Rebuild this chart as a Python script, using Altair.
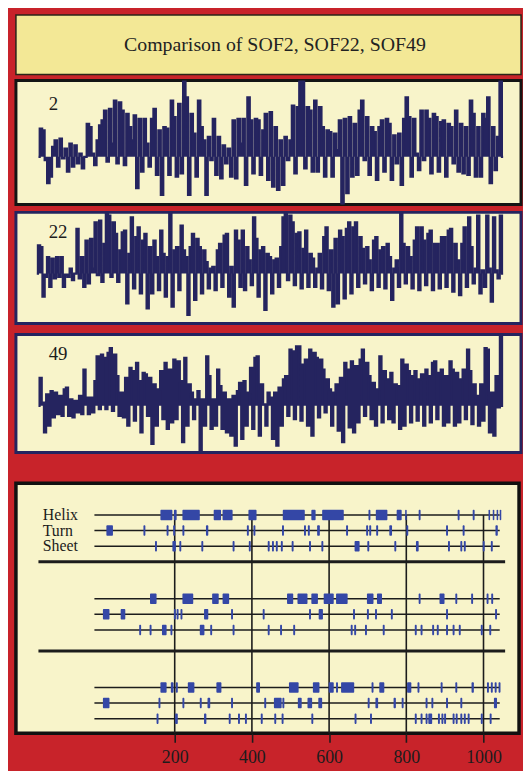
import altair as alt
import pandas as pd

# ---------------- data ----------------
TITLE = "Comparison of SOF2, SOF22, SOF49"
PANEL_LABELS = ["2", "22", "49"]

HYD_2 = [
    0, 0.85, 0.8, -0.1, -0.8, -0.6, 0.3,
    0.5, -0.3, 0.55, -0.05, 0.25, -0.45, 0.4,
    -0.3, 0.35, -0.2, 0.1, -0.35, 0,
    1.0, 0.9, 0.1, -0.25, 0.5, 0.95,
    1.1, 1.4, -0.15, 1.45, 0.4, 1.7, -0.2, 1.65,
    1.4, -0.25, 1.3, 0.9, 0.5, 1.25, -0.95,
    1.15, -0.45, 1.15, 0.4, -0.3, 1.15,
    1.45, -0.55, 0.8, -1.15, 0.9, 0.85, -0.55,
    1.7, 1.2, -0.6, 1.6, -0.5, 2.3,
    1.8, -1.15, 1.3, 0.7, -0.6, 1.7, 0.9,
    0.5, -1.15, 0.6, -0.1, 1.15, -0.55,
    0.6, -0.65, 0.35, -0.2, 0.25, -0.6,
    1.1, -0.65, 1.15, 0.4, 1.15, -0.85, 1.8,
    1.1, -0.5, 1.15, 1.1, -0.55, 0.8, 1.3, -0.7,
    1.35, -0.9, 0.9, -1.0, 0.5, -0.85,
    0.6, -0.1, 0.5, 1.55, -0.5, 1.5, 2.3,
    2.3, -0.35, 1.5, 1.4, -0.45, 1.7, -0.45,
    1.5, 0.9, -0.6, 0.8, 0.75, -0.6, 0.7,
    0.2, 1.1, -1.45, 1.15, -1.1, 1.2, -0.6,
    1.0, -0.55, 1.4, 1.7, -0.1, 1.2, -0.55,
    0.9, 0.75, -0.7, 0.9, 1.1, -0.45, 1.15,
    1.0, -0.7, 0.65, -0.2, 0.7, -0.85, 1.15,
    1.8, 1.2, -0.6, 1.15, 0.1, -0.4,
    1.4, -0.1, 1.4, 1.15, -0.5, 1.3, 1.2, -0.45,
    1.05, 1.1, -0.6, 1.0, 0.9, -0.2,
    1.4, -0.45, 1.0, -0.5, 0.9, -0.55, 1.7,
    1.3, -0.6, 0.9, -0.6, 1.3, 1.15,
    1.8, -0.8, 0.9, -0.4, 0.6, 2.3, 0,
]

HYD_22 = [
    0, 0.85, 0.8, -0.7, -0.1, 0.5, -0.4, 0.45, -0.15, 0.5, -0.1, 0.5, -0.4,
    -0.05, -0.1, 0.15, -0.2, 0, 1.35, -0.15, 0.5, -0.4, 1.0, -0.3, 1.05, 0.15,
    1.55, -0.05, 1.6, -0.25, 0.9, 1.85, 1.75, -0.1, 1.55, 1.2, -0.25, 0.7, 1.25,
    1.3, -0.9, 0.6, 1.7, -0.45, 1.1, 1.4, -0.6, 1.0, 1.2, -1.05, 0.8, -0.6, 1.0,
    0.5, -0.5, 1.3, 0.6, -0.7, 0.5, 1.85, -1.0, 0.7, 0.8, -0.5, 1.45, 0.7, 0.5,
    -1.25, 0.8, 1.2, -0.8, 1.05, 0.8, -0.6, 0.7, 0.35, -0.45, 0.15, 0.2, -0.5,
    0.7, 0.9, -0.4, 1.15, 1.2, -0.7, 0.2, -1.0, 1.3, 1.0, -0.4, 1.3, -0.5, 0.8,
    0.4, -0.35, 1.7, 1.05, -0.7, 0.7, 0.8, -1.1, 0.6, 0.5, -0.6, 0.4, 0.45, -0.4,
    0.8, 1.7, 1.85, -0.2, 1.75, 1.55, -0.35, 1.2, 1.25, -0.45, 0.75, 1.3, -0.4,
    0.6, 0.45, -0.4, 0.15, 0.6, -0.45, 1.1, 1.4, -0.5, 0.7, -1.0, 1.05, -0.9,
    1.3, 1.1, -0.75, 1.35, 1.55, -0.6, 1.4, 1.55, -0.4, 1.1, 0.75, -0.3, 0.8,
    0.4, -0.5, 1.0, 1.1, -0.4, 0.7, 0.8, -0.45, 0.9, 0.5, -0.8, 0.15, 0.4, -0.4,
    1.85, 0.9, -0.3, 0.8, 0.5, -0.45, 1.0, 1.4, -0.5, 1.4, 1.0, -0.35, 1.2, 1.3,
    -0.5, 0.9, 0.9, -0.45, 1.1, 1.1, -0.4, 1.3, 1.35, -0.55, 0.9, 0.4, -0.65,
    0.9, 1.4, -0.4, 1.7, 0.8, -0.3, 0.15, 1.75, -0.6, 0.1, -0.4, 1.75, 0.15,
    -0.85, 1.7, 0.1, -0.15, 1.75, 0,
]

HYD_49 = [
    0, 0.85, 0.1, -0.8, 0.35, -0.6, 0.45, -0.35, 0.4, -0.25, 0.3, -0.3, 0.5,
    0.55, -0.3, 0.2, -0.35, 0.15, -0.2, 0.3, -0.25, 1.1, 0.25, -0.25, 0.25,
    -0.2, 0.75, 1.5, -0.1, 1.55, 1.45, -0.1, 1.6, 1.75, -0.15, 1.55, 0.9, -0.3,
    0.4, -0.35, 0.85, -0.6, 1.15, 1.05, -0.45, 1.3, 0.75, -0.8, 1.0, 0.95, -0.3,
    0.85, -1.15, 0.65, -0.6, 0.5, 1.05, -0.4, 1.3, -0.7, 1.1, -0.5, 1.4, -0.4,
    1.35, 0.75, -1.1, 1.45, -0.6, 0.65, 0.4, -0.4, 0.2, 0.45, -1.4, 0.2, -0.6,
    1.5, 0.9, -0.7, 0.2, -0.6, 1.1, 0.6, -0.7, 0.4, -0.8, 0.2, -0.9, 0.3, -1.2,
    0.45, 0.7, -1.0, 0.75, -0.6, 0.4, 1.15, -0.7, 1.45, 1.5, -0.9, 0.65, 0.05,
    -0.6, 0.4, 0.25, -1.0, 0.4, -1.2, 0.55, -0.6, 0.8, 0.9, -0.3, 1.7, 1.65,
    -0.4, 1.8, 1.8, -0.45, 1.25, 1.4, -0.6, 1.7, -0.9, 1.6, 1.45, -0.35, 1.4,
    1.1, -0.2, 0.8, 0.5, -0.6, 0.4, 0.65, -0.75, 0.85, -1.1, 1.3, 1.1, -0.65,
    1.35, -0.8, 1.2, -0.5, 1.4, 1.7, -0.3, 1.3, 0.9, -0.4, 0.7, -0.6, 0.5, 1.5,
    -0.5, 1.05, 0.8, -0.4, 1.0, -0.5, 0.65, 0.6, -0.7, 1.4, -0.6, 1.25, 1.05,
    -0.5, 0.9, 1.05, -0.45, 0.8, 0.95, -0.6, 1.1, 0.9, -0.5, 1.3, 1.35, -0.4,
    1.0, 1.1, -0.6, 0.9, -0.5, 1.35, 1.1, -0.6, 1.0, -0.5, 0.8, 1.1, -0.4, 1.7,
    1.05, -0.55, 0.65, 0.3, -0.6, 0.65, -0.45, 1.75, 1.7, -0.8, 0.4, -0.9, 0.9,
    -0.05, 2.15, 0,
]

TRACKS = ["Helix", "Turn", "Sheet"]

# secondary-structure elements, (start residue, end residue)
G1_HELIX = [(163, 194), (198, 205), (220, 265), (301, 320), (324, 350), (391, 412),
            (480, 537), (554, 565), (582, 638), (702, 707), (721, 751), (775, 788),
            (797, 801), (832, 837), (933, 938), (972, 977), (1013, 1017),
            (1024, 1028), (1034, 1038), (1042, 1046)]
G1_TURN = [(23, 40), (119, 124), (179, 184), (196, 201), (220, 225), (281, 287),
           (387, 392), (404, 409), (478, 483), (535, 540), (545, 550), (569, 576),
           (644, 649), (696, 701), (704, 709), (722, 727), (756, 763), (800, 805),
           (903, 908), (946, 951), (1031, 1037)]
G1_SHEET = [(149, 154), (194, 203), (212, 217), (269, 274), (350, 355), (392, 397),
            (441, 446), (452, 457), (462, 467), (475, 480), (503, 508), (548, 553),
            (580, 585), (666, 679), (699, 704), (769, 774), (825, 832), (908, 913),
            (940, 945), (949, 954), (998, 1003), (1019, 1024)]

G2_HELIX = [(136, 153), (220, 248), (297, 314), (324, 341), (491, 507), (518, 544),
            (554, 571), (586, 612), (618, 648), (698, 715), (724, 737), (832, 837),
            (886, 899), (927, 932), (968, 973), (1008, 1013), (1020, 1025)]
G2_TURN = [(14, 31), (60, 72), (198, 203), (205, 210), (215, 220), (276, 287),
           (346, 351), (428, 433), (548, 553), (573, 584), (662, 667), (698, 703),
           (719, 724), (760, 765), (903, 908), (1030, 1035)]
G2_SHEET = [(108, 113), (135, 140), (167, 179), (189, 194), (265, 277), (292, 297),
            (350, 355), (441, 446), (473, 478), (507, 512), (656, 661), (665, 670),
            (693, 698), (739, 744), (822, 827), (837, 842), (867, 872), (879, 884),
            (903, 908), (920, 925), (936, 941), (993, 998), (1015, 1020)]

G3_HELIX = [(163, 179), (190, 197), (203, 208), (234, 251), (308, 321), (411, 421),
            (496, 521), (558, 575), (599, 612), (618, 623), (631, 665), (710, 715),
            (730, 743), (802, 813), (829, 834), (889, 894), (927, 932), (969, 975),
            (1009, 1014), (1019, 1024), (1029, 1034), (1039, 1044)]
G3_TURN = [(14, 31), (158, 163), (220, 225), (265, 270), (285, 292), (346, 351),
           (432, 437), (457, 477), (479, 484), (519, 529), (544, 556), (572, 582),
           (700, 705), (720, 727), (767, 773), (788, 793), (850, 855), (865, 870),
           (903, 908), (940, 945), (1027, 1035)]
G3_SHEET = [(153, 158), (201, 208), (276, 282), (340, 345), (364, 369), (382, 387),
            (423, 428), (458, 463), (477, 482), (554, 559), (666, 671), (706, 711),
            (822, 827), (837, 842), (850, 855), (857, 867), (882, 887), (891, 896),
            (898, 903), (920, 925), (928, 933), (940, 945), (949, 954), (959, 964),
            (993, 998), (1016, 1021)]

TICK_VALUES = [200, 400, 600, 800, 1000]
SEQ_START, SEQ_END = -8, 1042

# ---------------- style / layout ----------------
RED = "#c8232a"
TITLE_FILL = "#f3e896"
CREAM = "#f8f4ca"
NAVY = "#25245f"
BLUE = "#3447a6"
INK = "#1c1c1c"
SERIF = "Liberation Serif"

PANEL_W = 509
BOTTOM_W = 507
BOTTOM_H = 252
GROUP_BASE = [2.0, 7.27, 12.86]
TRACK_OFFSET = [0.0, 0.98, 1.97]
SEPARATORS = [4.95, 10.56]
Y_MAX = BOTTOM_H / 16.0


def hydro_panel(values, label, height, ydomain, border, label_y, x0, x1):
    n = len(values)
    df = pd.DataFrame({"pos": list(range(n)), "score": values})
    per = (x1 - x0) / (n - 1)
    xs = alt.Scale(domain=[-x0 / per, (PANEL_W - x0) / per], nice=False, zero=False)
    ys = alt.Scale(domain=ydomain, nice=False, zero=False)
    base = alt.Chart(df)
    area = base.mark_area(interpolate="step", color=NAVY, clip=True).encode(
        x=alt.X("pos:Q", scale=xs, axis=None),
        y=alt.Y("score:Q", scale=ys, axis=None),
        y2=alt.datum(0),
    )
    line = base.mark_line(interpolate="step", color=NAVY, strokeWidth=2.2,
                          clip=True).encode(
        x=alt.X("pos:Q", scale=xs, axis=None),
        y=alt.Y("score:Q", scale=ys, axis=None),
    )
    lab = alt.Chart(pd.DataFrame({"t": [label]})).mark_text(
        align="left", baseline="middle", font=SERIF, fontSize=19, color=INK
    ).encode(text="t:N", x=alt.value(33), y=alt.value(label_y))
    return alt.layer(area, line, lab).properties(
        width=PANEL_W, height=height,
        view=alt.ViewBackground(fill=CREAM, stroke=border, strokeWidth=3),
    )


title_chart = alt.Chart(pd.DataFrame({"t": [TITLE]})).mark_text(
    font=SERIF, fontSize=20, color="#222222", baseline="middle"
).encode(text="t:N", x=alt.value(261), y=alt.value(30)).properties(
    width=PANEL_W, height=60,
    view=alt.ViewBackground(fill=TITLE_FILL, stroke="#2a2418", strokeWidth=1.5),
)

p2 = hydro_panel(HYD_2, PANEL_LABELS[0], 125, [-1.44, 2.31], "#141414", 24, 22.7, 491)
p22 = hydro_panel(HYD_22, PANEL_LABELS[1], 112, [-1.51, 1.85], NAVY, 20, 21, 491)
p49 = hydro_panel(HYD_49, PANEL_LABELS[2], 119, [-1.41, 2.16], NAVY, 20, 22.7, 491)

# ---------- bottom structure panel ----------
groups = [[G1_HELIX, G1_TURN, G1_SHEET],
          [G2_HELIX, G2_TURN, G2_SHEET],
          [G3_HELIX, G3_TURN, G3_SHEET]]
elem_rows, track_rows = [], []
for g, trk in enumerate(groups):
    for t, segs in enumerate(trk):
        yc = GROUP_BASE[g] + TRACK_OFFSET[t]
        track_rows.append({"y": yc, "name": TRACKS[t], "g": g,
                           "x0": SEQ_START, "x1": SEQ_END})
        for s, e in segs:
            elem_rows.append({"start": s, "end": e, "top": yc - 0.33, "bot": yc + 0.33})
elements = pd.DataFrame(elem_rows)
tracks = pd.DataFrame(track_rows)

px_per_res = 0.389
x_zero_px = 82.2
xs_b = alt.Scale(domain=[-x_zero_px / px_per_res, (BOTTOM_W - x_zero_px) / px_per_res],
                 nice=False, zero=False)
ys_b = alt.Scale(domain=[0, Y_MAX], reverse=True, nice=False, zero=False)

x_axis = alt.Axis(
    values=TICK_VALUES, format="d", domain=False, grid=False, ticks=True,
    tickSize=9, tickWidth=1.6, tickColor=INK, labelFont=SERIF,
    labelFontSize=18, labelColor=INK, labelPadding=6, title=None,
    labelOverlap=False, orient="bottom")


def xenc(field):
    return alt.X(field, scale=xs_b, axis=x_axis)


grid = alt.Chart(pd.DataFrame({"r": TICK_VALUES, "y0": GROUP_BASE[0], "y1": Y_MAX})).mark_rule(
    color=INK, strokeWidth=1.6
).encode(
    x=xenc("r:Q"),
    y=alt.Y("y0:Q", scale=ys_b, axis=None),
    y2="y1:Q",
)

track_lines = alt.Chart(tracks).mark_rule(color=INK, strokeWidth=1.5).encode(
    x=xenc("x0:Q"),
    x2="x1:Q",
    y=alt.Y("y:Q", scale=ys_b, axis=None),
)

seps = alt.Chart(pd.DataFrame({"y": SEPARATORS, "x0": -153, "x1": 1056})).mark_rule(
    color=INK, strokeWidth=3
).encode(
    x=xenc("x0:Q"),
    x2="x1:Q",
    y=alt.Y("y:Q", scale=ys_b, axis=None),
)

elems = alt.Chart(elements).mark_rect(color=BLUE, cornerRadius=1).encode(
    x=xenc("start:Q"),
    x2="end:Q",
    y=alt.Y("top:Q", scale=ys_b, axis=None),
    y2="bot:Q",
)

labels = alt.Chart(tracks[tracks["g"] == 0]).mark_text(
    align="left", baseline="middle", font=SERIF, fontSize=16, color=INK
).encode(
    text="name:N",
    x=alt.value(27),
    y=alt.Y("y:Q", scale=ys_b, axis=None),
)

bottom = alt.layer(grid, track_lines, seps, elems, labels).properties(
    width=BOTTOM_W, height=BOTTOM_H,
    view=alt.ViewBackground(fill=CREAM, stroke="#111111", strokeWidth=3.5),
)

c = alt.vconcat(title_chart, p2, spacing=3)
c = alt.vconcat(c, p22, spacing=4)
c = alt.vconcat(c, p49, spacing=7)
chart = alt.vconcat(c, bottom, spacing=27).properties(
    background=RED,
    padding={"left": 6, "top": 3, "right": 0, "bottom": 0},
)

chart.save("out.html", embed_options={"renderer": "svg", "actions": False})
